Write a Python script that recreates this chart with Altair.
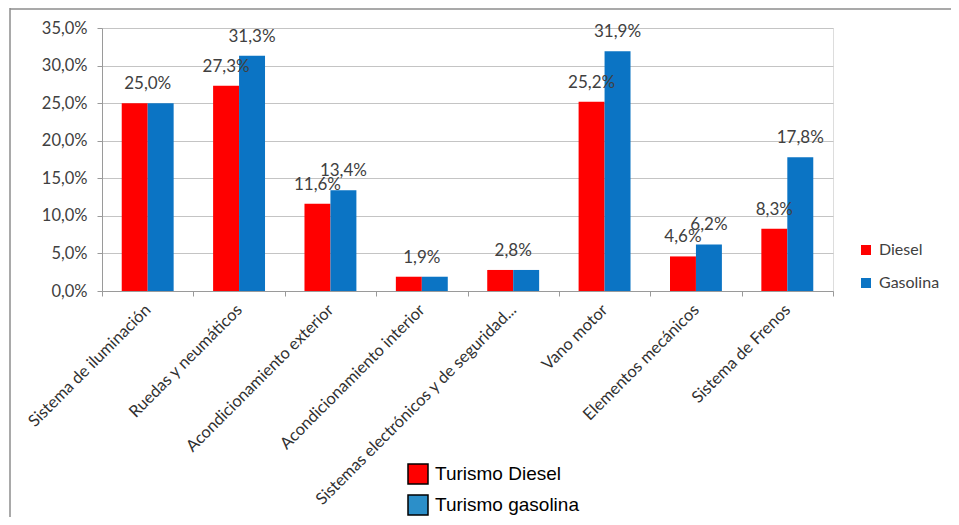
import altair as alt
import pandas as pd

categorias = [
    "Sistema de iluminación",
    "Ruedas y neumáticos",
    "Acondicionamiento exterior",
    "Acondicionamiento interior",
    "Sistemas electrónicos y de seguridad...",
    "Vano motor",
    "Elementos mecánicos",
    "Sistema de Frenos",
]
diesel = [25.0, 27.3, 11.6, 1.9, 2.8, 25.2, 4.6, 8.3]
gasolina = [25.0, 31.3, 13.4, 1.9, 2.8, 31.9, 6.2, 17.8]
series = ["Diesel", "Gasolina"]
series_turismo = ["Turismo Diesel", "Turismo gasolina"]
colores = ["#FF0000", "#0B74C4"]
colores_turismo = ["#FF0000", "#2C8FC9"]
y_ticks = [0, 5, 10, 15, 20, 25, 30, 35]

rows = []
for c, d, g in zip(categorias, diesel, gasolina):
    rows.append(dict(cat=c, serie=series[0], turismo=series_turismo[0], valor=d))
    rows.append(dict(cat=c, serie=series[1], turismo=series_turismo[1], valor=g))
df = pd.DataFrame(rows)
df["etiqueta"] = df["valor"].map(lambda v: f"{v:.1f}".replace(".", ",") + "%")
iguales = df.groupby("cat")["valor"].transform(lambda s: s.nunique() == 1)
df_sep = df[~iguales]
df_conj = df[iguales & (df["serie"] == series[0])]

FONT = "Lato"
TXT = "#404040"

x_enc = alt.X(
    "cat:N",
    sort=categorias,
    scale=alt.Scale(paddingInner=0, paddingOuter=0),
    axis=alt.Axis(
        title=None, labelAngle=-45, labelAlign="right", labelBaseline="middle",
        tickBand="extent", tickSize=5, labelPadding=11, labelOffset=0,
        labelFontSize=16.5, labelFont=FONT, labelColor="#303030", labelLimit=400,
        domainColor="#9A9A9A", tickColor="#9A9A9A", grid=False,
    ),
)
y_enc = alt.Y(
    "valor:Q",
    scale=alt.Scale(domain=[0, 35], nice=False),
    axis=alt.Axis(
        title=None, values=y_ticks, tickCount=8, labelOverlap=False,
        labelExpr="replace(format(datum.value,'.1f'),'.',',')+'%'",
        grid=True, gridColor="#C4C4C4", gridWidth=1.2,
        domainColor="#9A9A9A", tickColor="#9A9A9A", tickSize=5,
        labelFontSize=16.5, labelFont=FONT, labelColor=TXT, labelPadding=10,
    ),
)
xoff = alt.XOffset("serie:N", sort=series, scale=alt.Scale(paddingOuter=0.76, paddingInner=0))

base = alt.Chart(df)

bars = base.mark_bar().encode(
    x=x_enc,
    y=y_enc,
    xOffset=xoff,
    color=alt.Color(
        "serie:N",
        scale=alt.Scale(domain=series, range=colores),
        legend=alt.Legend(
            orient="none", legendX=756, legendY=214, title=None,
            symbolType="square", symbolSize=100, symbolStrokeWidth=0,
            labelFontSize=16, labelFont=FONT, labelColor=TXT,
            rowPadding=17, labelOffset=5, padding=0,
        ),
    ),
)

legend_layer = base.mark_square(filled=True, opacity=0, stroke="black", strokeWidth=1.5).encode(
    x=x_enc,
    y=y_enc,
    fill=alt.Fill(
        "turismo:N",
        scale=alt.Scale(domain=series_turismo, range=colores_turismo),
        legend=alt.Legend(
            orient="none", legendX=305, legendY=435, title=None,
            symbolType="square", symbolSize=400, symbolStrokeColor="black",
            symbolStrokeWidth=1.5, symbolOpacity=1,
            labelFont="Liberation Sans", labelFontSize=19, labelColor="black",
            rowPadding=5, labelOffset=6, padding=0,
        ),
    ),
)

labels_sep = alt.Chart(df_sep).mark_text(
    dy=-19, baseline="middle", align="center", font=FONT, fontSize=17, color=TXT
).encode(
    x=x_enc,
    y=y_enc,
    xOffset=xoff,
    text="etiqueta:N",
)

labels_conj = alt.Chart(df_conj).mark_text(
    dy=-19, baseline="middle", align="center", font=FONT, fontSize=17, color=TXT
).encode(
    x=x_enc,
    y=y_enc,
    text="etiqueta:N",
)

frame_df = pd.DataFrame({"k": [0]})
left_rule = alt.Chart(frame_df).mark_rule(color="#8C8C8C", strokeWidth=1.5).encode(
    x=alt.value(-92), y=alt.value(-20), y2=alt.value(489)
)
top_rule = alt.Chart(frame_df).mark_rule(color="#8C8C8C", strokeWidth=1.5).encode(
    x=alt.value(-92), x2=alt.value(849), y=alt.value(-19)
)

chart = alt.layer(bars, legend_layer, labels_sep, labels_conj, left_rule, top_rule).properties(
    width=731,
    height=263,
    autosize=alt.AutoSizeParams(type="none"),
    padding={"left": 94, "top": 20, "right": 118, "bottom": 226},
).configure_view(stroke=None).configure(background="white")

chart.save("out.html", embed_options={"renderer": "svg", "actions": False})
